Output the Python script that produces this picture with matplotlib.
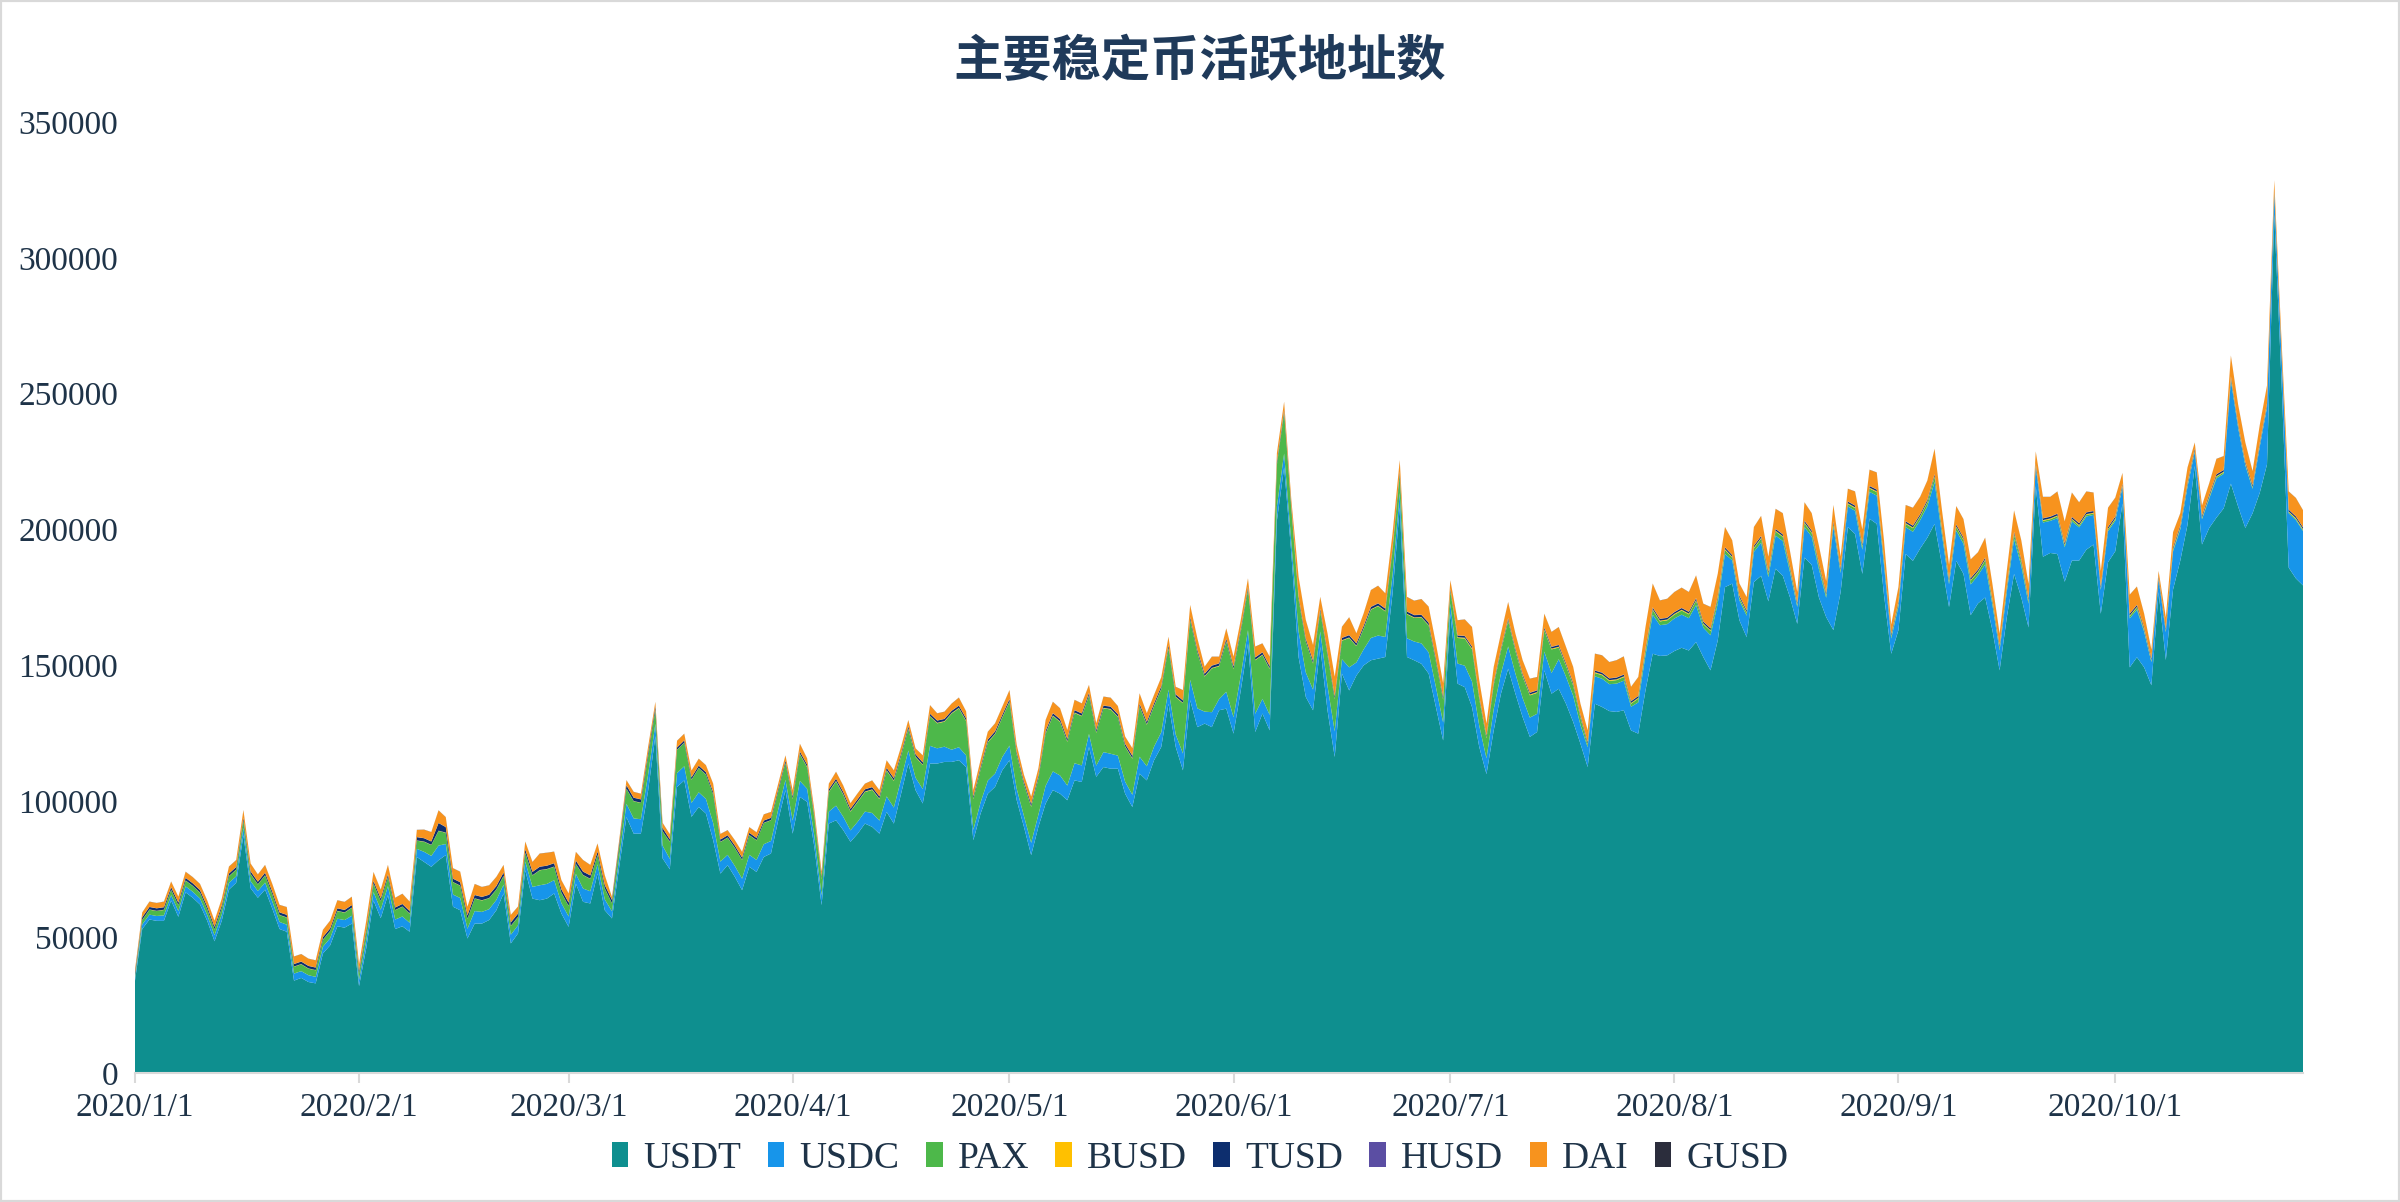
import matplotlib.pyplot as plt
import pandas as pd
from matplotlib.patches import Rectangle

# 2020/1/1 - 2020/10/27, daily, values in thousands of addresses
dates = pd.date_range('2020-01-01', '2020-10-27', freq='D')

usdt = [
    # Jan
    34, 53, 56.5, 56, 56, 63.5, 57.5, 66.5, 64.5, 62, 56, 48.5, 56, 67.5, 70, 87.5,
    68, 64.5, 67.5, 60.5, 53, 52, 34, 35, 33.5, 33, 44, 47, 54, 53.5, 55,
    # Feb
    32, 46, 63.5, 57, 65.5, 53, 54, 52, 79.5, 77.7, 75.9, 78.3, 80.2, 61.2, 59.9,
    49.5, 55, 55, 56.3, 59.9, 66.1, 47.7, 51.4, 74.6, 64.2, 63.6, 64.2, 66.1, 58.7,
    # Mar
    53.8, 69.7, 63, 62.4, 73.4, 59.9, 56.9, 75.9, 94.2, 88.1, 88.1, 104, 124, 79, 75,
    105.3, 107.7, 94.3, 97.9, 95.5, 85.7, 73.4, 76.5, 72.2, 67.3, 75.9, 74, 79.5, 80.8, 93, 104.1,
    # Apr
    88.1, 101.6, 99.8, 83.2, 61.8, 91.8, 93, 89.4, 85.1, 88.1, 91.8, 90.6, 88.1, 96.1, 91.8,
    102.8, 113.9, 104.1, 99.2, 113.9, 113.9, 114.5, 114.5, 115.1, 112.6, 85.7, 95.5, 102.8, 105.3, 111.4,
    # May
    115.1, 100.4, 90.6, 80.2, 90.6, 99.2, 104.1, 102.8, 100.4, 107.7, 107.1, 120, 109, 112.6, 112,
    112, 102.8, 97.9, 110.2, 107.7, 115.1, 120, 135.9, 120, 111.4, 137.2, 127.3, 128.6, 127.3, 133.5, 134.1,
    # Jun
    124.9, 140.8, 158, 125.5, 132.3, 126.1, 203.3, 222.9, 191.1, 153.1, 138.4, 133.5, 156.8, 133.5, 116.3,
    147, 140.8, 146.3, 150, 151.9, 152.5, 153.1, 176.4, 208.2, 153.1, 151.9, 150.6, 147, 134.7, 122.4,
    # Jul
    169, 143.3, 142, 134.7, 120, 110, 126.1, 139.6, 148.8, 139.6, 131, 123.7, 125.5, 148.2, 139.6,
    141.4, 135.9, 129.2, 121.2, 112.6, 135.9, 134.7, 133.2, 132.9, 133.5, 126.1, 124.9, 140.8, 154.3, 153.5, 153.7,
    # Aug
    155.3, 156.5, 155.5, 158.6, 153.1, 148.2, 159.2, 178.8, 180.1, 166.6, 160.4, 180.7, 183, 173.6, 185.6,
    183, 175, 165.3, 189.7, 187, 175, 167.8, 163, 177, 200.9, 198.4, 183.7, 204, 202.1, 176, 154.3,
    # Sep
    163, 191, 188.5, 193, 197, 202.1, 187.4, 171.5, 188.5, 183.7, 168.5, 172.8, 175, 163, 148.2,
    167.8, 183.7, 175, 164, 216, 190, 191.4, 191, 180.8, 188.6, 188.6, 192.6, 194.5, 169, 188,
    # Oct
    192, 209.6, 149.3, 153, 149.3, 142.7, 177, 152, 178, 188.6, 201.8, 223.4, 194.5, 200.6,
    204.4, 207.8, 216.9, 208.5, 200.6, 206, 213.6, 224, 316, 255, 186, 182, 179.4,
]

usdc = [
    1.0, 1.7, 1.8, 1.8, 2.0, 2.0, 2.1, 2.2, 2.2, 2.2, 2.1, 2.2, 2.3, 2.5, 2.4, 2.7,
    2.6, 2.5, 2.6, 2.6, 2.6, 2.6, 2.6, 2.5, 2.5, 2.4, 2.5, 2.6, 2.8, 2.8, 2.9,
    2.3, 3.0, 3.1, 3.1, 3.3, 3.5, 3.6, 3.3, 3.0, 3.7, 4.0, 5.4, 4.1, 4.5, 4.5,
    3.6, 4.6, 4.3, 4.0, 3.8, 3.2, 3.2, 3.0, 3.2, 4.3, 5.5, 5.4, 4.9, 3.8,
    3.8, 3.6, 4.9, 4.5, 3.4, 4.0, 2.6, 3.4, 4.9, 5.6, 5.3, 5.9, 4.5, 4.7, 3.8,
    5.1, 5.2, 5.1, 5.4, 5.4, 6.3, 4.4, 3.8, 4.0, 4.2, 4.4, 4.4, 4.7, 4.6, 4.0, 3.8,
    4.8, 5.9, 4.8, 4.0, 3.6, 4.4, 5.4, 4.9, 4.2, 4.4, 4.4, 5.1, 4.8, 5.7, 5.9,
    5.2, 4.8, 4.6, 5.3, 6.5, 5.6, 5.6, 4.5, 4.8, 4.3, 3.8, 4.1, 4.8, 4.9, 4.9,
    5.4, 4.2, 4.0, 4.5, 4.5, 6.5, 6.9, 6.7, 5.4, 6.3, 6.1, 4.8, 4.1, 5.5, 5.5,
    4.8, 4.4, 4.5, 6.2, 5.2, 5.0, 5.4, 5.2, 4.6, 6.2, 7.5, 6.9, 4.4, 5.5, 4.1, 6.2,
    6.0, 5.5, 5.0, 6.7, 5.4, 5.7, 5.2, 5.1, 4.1, 9.4, 9.0, 7.6, 5.7, 9.0, 9.4,
    5.3, 8.5, 4.8, 5.9, 8.2, 8.5, 7.4, 6.9, 5.3, 6.9, 6.9, 7.5, 7.8, 7.4, 6.6,
    3.7, 7.4, 7.9, 9.4, 7.8, 5.8, 7.8, 7.4, 8.2, 7.4, 7.0, 7.1, 6.7, 6.9, 7.6,
    10.9, 10.0, 9.6, 6.9, 7.3, 10.1, 10.4, 9.9, 10.4, 10.9, 8.7, 11.5, 12.9, 14.4, 11.3, 11.5,
    12.0, 12.2, 11.9, 13.6, 10.8, 12.9, 13.6, 12.2, 8.6, 7.3, 7.9, 11.1, 12.2, 8.9, 12.2,
    12.8, 9.3, 6.2, 11.2, 10.4, 10.4, 7.1, 38, 7.0, 7.6, 8.5, 8.9, 9.9, 10.4, 11.0, 5.6,
    8.6, 9.9, 10.7, 10.4, 11.6, 15.4, 11.1, 8.4, 11.1, 11.1, 11.3, 10.3, 12.2, 9.3, 7.3,
    9.4, 12.9, 11.6, 8.7, 7.0, 12.6, 11.8, 13.2, 12.7, 14.4, 12.2, 12.2, 10.9, 8.8, 11.4,
    11.2, 6.1, 18.0, 17.5, 13.1, 8.5, 4.7, 10.2, 14.0, 11.5, 14.0, 5.3, 9.3, 10.8,
    14.4, 12.7, 38, 29, 23, 9.0, 17, 21, 7.5, 9.5, 20, 21.5, 20,
]

pax = [
    0.9, 1.6, 1.8, 1.8, 2.0, 1.9, 2.1, 2.1, 2.1, 2.1, 2.1, 2.1, 2.3, 2.4, 2.4, 2.7,
    2.6, 2.4, 2.6, 2.6, 2.5, 2.6, 2.5, 2.5, 2.4, 2.4, 2.5, 2.6, 2.8, 2.7, 2.9,
    2.3, 2.9, 3.1, 3.1, 3.3, 3.4, 3.6, 3.3, 3.0, 3.7, 4.0, 5.4, 4.1, 4.5, 4.5,
    3.6, 4.6, 4.2, 4.0, 3.8, 3.2, 3.2, 3.0, 3.2, 4.2, 5.5, 5.4, 4.9, 3.8,
    3.8, 3.6, 4.9, 4.5, 3.4, 4.0, 2.9, 3.8, 5.5, 6.3, 6.0, 6.6, 5.0, 5.2, 6.3,
    8.5, 8.6, 8.5, 8.9, 8.9, 10.5, 7.2, 6.3, 6.6, 6.9, 7.2, 7.2, 7.8, 7.6, 6.6, 6.2,
    7.9, 9.8, 7.9, 6.6, 5.9, 7.2, 8.9, 8.1, 6.9, 7.3, 7.2, 8.5, 7.9, 9.5, 9.8,
    8.6, 7.9, 7.6, 8.8, 10.8, 9.2, 9.2, 13.3, 14.3, 12.6, 11.3, 12.1, 14.1, 14.5, 14.5,
    16.1, 12.5, 11.7, 13.3, 13.3, 19.2, 20.4, 19.7, 16.1, 18.5, 18.1, 14.1, 12.1, 16.1, 16.3,
    14.2, 12.9, 13.3, 18.5, 15.3, 14.9, 15.9, 15.3, 13.7, 18.5, 22.0, 20.5, 12.9, 16.1, 12.1, 18.5,
    17.7, 16.1, 14.9, 19.7, 16.1, 16.9, 15.4, 15.0, 12.1, 11.9, 11.4, 9.6, 7.3, 11.4, 11.9,
    6.8, 10.8, 6.0, 7.6, 10.4, 10.8, 9.4, 8.8, 6.8, 8.8, 8.7, 9.5, 9.9, 9.4, 8.4,
    4.7, 9.4, 10.0, 11.9, 9.9, 7.4, 8.9, 8.4, 9.4, 8.4, 8.0, 8.2, 7.7, 7.9, 8.7,
    4.3, 4.0, 3.8, 2.7, 0.9, 1.2, 1.3, 1.2, 1.3, 1.3, 1.1, 1.4, 1.6, 1.7, 1.4, 1.4,
    1.4, 1.5, 1.4, 1.6, 1.3, 1.6, 1.6, 1.5, 1.0, 0.9, 1.0, 1.3, 1.5, 1.1, 1.5,
    1.5, 1.1, 0.7, 1.4, 1.3, 1.3, 0.9, 1.0, 0.8, 0.9, 1.0, 1.1, 1.2, 1.3, 1.3, 0.7,
    1.0, 1.2, 1.3, 1.3, 1.4, 1.9, 1.3, 1.0, 1.3, 1.3, 1.4, 1.2, 1.5, 1.1, 0.9,
    1.1, 1.6, 1.4, 1.0, 0.4, 0.6, 0.6, 0.7, 0.6, 0.7, 0.6, 0.6, 0.5, 0.4, 0.6,
    0.6, 0.3, 0.8, 0.8, 0.6, 0.4, 0.2, 0.4, 0.6, 0.5, 0.6, 0.2, 0.4, 0.5,
    0.6, 0.5, 0.5, 0.5, 0.4, 0.4, 0.4, 0.5, 0.3, 0.3, 0.4, 0.4, 0.4,
]

busd = [
    # Jan
    0.1, 0.1, 0.1, 0.1, 0.1, 0.1, 0.1, 0.1, 0.1, 0.1, 0.1, 0.1, 0.1, 0.1, 0.1, 0.1,
    0.1, 0.1, 0.1, 0.1, 0.1, 0.1, 0.1, 0.1, 0.1, 0.1, 0.1, 0.1, 0.1, 0.1, 0.1,
    # Feb
    0.1, 0.1, 0.1, 0.1, 0.1, 0.1, 0.1, 0.1, 0.1, 0.1, 0.1, 0.1, 0.1, 0.1, 0.1,
    0.1, 0.1, 0.1, 0.1, 0.1, 0.1, 0.1, 0.1, 0.1, 0.1, 0.1, 0.1, 0.1, 0.1,
    # Mar
    0.1, 0.1, 0.1, 0.1, 0.1, 0.1, 0.1, 0.1, 0.1, 0.1, 0.1, 0.1, 0.1, 0.1, 0.1, 0.1,
    0.1, 0.1, 0.1, 0.1, 0.1, 0.1, 0.1, 0.1, 0.1, 0.1, 0.1, 0.1, 0.1, 0.1, 0.1,
    # Apr
    0.2, 0.2, 0.2, 0.2, 0.2, 0.2, 0.2, 0.2, 0.2, 0.2, 0.2, 0.2, 0.2, 0.2, 0.2,
    0.2, 0.2, 0.2, 0.2, 0.2, 0.2, 0.2, 0.2, 0.2, 0.2, 0.2, 0.2, 0.2, 0.2, 0.2,
    # May
    0.2, 0.2, 0.2, 0.2, 0.2, 0.2, 0.2, 0.2, 0.2, 0.2, 0.2, 0.2, 0.2, 0.2, 0.2, 0.2,
    0.2, 0.2, 0.2, 0.2, 0.2, 0.2, 0.2, 0.2, 0.2, 0.2, 0.2, 0.2, 0.2, 0.2, 0.2,
    # Jun
    0.2, 0.2, 0.2, 0.2, 0.2, 0.2, 0.2, 0.2, 0.2, 0.2, 0.2, 0.2, 0.2, 0.2, 0.2,
    0.2, 0.2, 0.2, 0.2, 0.2, 0.2, 0.2, 0.2, 0.2, 0.2, 0.2, 0.2, 0.2, 0.2, 0.2,
    # Jul
    0.3, 0.3, 0.3, 0.3, 0.3, 0.3, 0.3, 0.3, 0.3, 0.3, 0.3, 0.3, 0.3, 0.3, 0.3, 0.3,
    0.3, 0.3, 0.3, 0.3, 0.3, 0.3, 0.3, 0.3, 0.3, 0.3, 0.3, 0.3, 0.3, 0.3, 0.3,
    # Aug
    0.3, 0.3, 0.3, 0.3, 0.3, 0.3, 0.3, 0.3, 0.3, 0.3, 0.3, 0.3, 0.3, 0.3, 0.3, 0.3,
    0.3, 0.3, 0.3, 0.3, 0.3, 0.3, 0.3, 0.3, 0.3, 0.3, 0.3, 0.3, 0.3, 0.3, 0.3,
    # Sep
    0.3, 0.3, 0.3, 0.3, 0.3, 0.3, 0.3, 0.3, 0.3, 0.3, 0.3, 0.3, 0.3, 0.3, 0.3,
    0.3, 0.3, 0.3, 0.3, 0.3, 0.3, 0.3, 0.3, 0.3, 0.3, 0.3, 0.3, 0.3, 0.3, 0.3,
    # Oct
    0.3, 0.3, 0.3, 0.3, 0.3, 0.3, 0.3, 0.3, 0.3, 0.3, 0.3, 0.3, 0.3, 0.3,
    0.3, 0.3, 0.3, 0.3, 0.3, 0.3, 0.3, 0.3, 0.3, 0.3, 0.3, 0.3, 0.3,
]

tusd = [
    # Jan
    0.9, 0.9, 0.9, 0.9, 0.9, 0.9, 0.9, 0.9, 0.9, 0.9, 0.9, 0.9, 0.9, 0.9, 0.9, 0.9,
    0.9, 0.9, 0.9, 0.9, 0.9, 0.9, 0.9, 0.9, 0.9, 0.9, 0.9, 0.9, 0.9, 0.9, 0.9,
    # Feb
    0.9, 0.9, 0.9, 0.9, 0.9, 0.9, 0.9, 0.9, 1.2, 1.2, 1.2, 2.8, 2.0, 1.2, 1.2,
    1.2, 1.2, 1.2, 1.2, 1.2, 1.2, 1.2, 1.2, 1.2, 1.2, 1.2, 1.2, 1.2, 1.2,
    # Mar
    1.2, 1.2, 1.2, 1.2, 1.2, 1.2, 1.2, 1.2, 1.2, 1.2, 1.2, 1.2, 1.2, 1.2, 0.8, 0.8,
    0.8, 0.8, 0.8, 0.8, 0.8, 0.8, 0.8, 0.8, 0.8, 0.8, 0.8, 0.8, 0.8, 0.8, 0.8,
    # Apr
    0.8, 0.8, 0.8, 0.8, 0.8, 0.8, 0.8, 0.8, 0.8, 0.8, 0.8, 0.8, 0.8, 0.8, 0.8,
    0.8, 0.8, 0.8, 0.8, 0.8, 0.8, 0.8, 0.8, 0.8, 0.8, 0.8, 0.8, 0.8, 0.8, 0.8,
    # May
    0.8, 0.8, 0.8, 0.8, 0.8, 0.8, 0.8, 0.8, 0.8, 0.8, 0.8, 0.8, 0.8, 0.8, 0.8, 0.8,
    0.8, 0.8, 0.8, 0.8, 0.8, 0.8, 0.8, 0.8, 0.8, 0.8, 0.8, 0.8, 0.8, 0.8, 0.8,
    # Jun
    0.8, 0.8, 0.8, 0.8, 0.8, 0.8, 0.8, 0.8, 0.8, 0.8, 0.8, 0.8, 0.8, 0.8, 0.8,
    0.8, 0.8, 0.8, 0.8, 0.8, 0.8, 0.8, 0.8, 0.8, 0.8, 0.8, 0.8, 0.8, 0.8, 0.8,
    # Jul
    0.6, 0.6, 0.6, 0.6, 0.6, 0.6, 0.6, 0.6, 0.6, 0.6, 0.6, 0.6, 0.6, 0.6, 0.6, 0.6,
    0.6, 0.6, 0.6, 0.6, 0.6, 0.6, 0.6, 0.6, 0.6, 0.6, 0.6, 0.6, 0.6, 0.6, 0.6,
    # Aug
    0.6, 0.6, 0.6, 0.6, 0.6, 0.6, 0.6, 0.6, 0.6, 0.6, 0.6, 0.6, 0.6, 0.6, 0.6, 0.6,
    0.6, 0.6, 0.6, 0.6, 0.6, 0.6, 0.6, 0.6, 0.6, 0.6, 0.6, 0.6, 0.6, 0.6, 0.6,
    # Sep
    0.6, 0.6, 0.6, 0.6, 0.6, 0.6, 0.6, 0.6, 0.6, 0.6, 0.6, 0.6, 0.6, 0.6, 0.6,
    0.6, 0.6, 0.6, 0.6, 0.6, 0.6, 0.6, 0.6, 0.6, 0.6, 0.6, 0.6, 0.6, 0.6, 0.6,
    # Oct
    0.6, 0.6, 0.6, 0.6, 0.6, 0.6, 0.6, 0.6, 0.6, 0.6, 0.6, 0.6, 0.6, 0.6,
    0.6, 0.6, 0.6, 0.6, 0.6, 0.6, 0.6, 0.6, 0.6, 0.6, 0.6, 0.6, 0.6,
]

husd = [
    # Jan
    0.05, 0.05, 0.05, 0.05, 0.05, 0.05, 0.05, 0.05, 0.05, 0.05, 0.05, 0.05, 0.05, 0.05, 0.05, 0.05,
    0.05, 0.05, 0.05, 0.05, 0.05, 0.05, 0.05, 0.05, 0.05, 0.05, 0.05, 0.05, 0.05, 0.05, 0.05,
    # Feb
    0.05, 0.05, 0.05, 0.05, 0.05, 0.05, 0.05, 0.05, 0.05, 0.05, 0.05, 0.05, 0.05, 0.05, 0.05,
    0.05, 0.05, 0.05, 0.05, 0.05, 0.05, 0.05, 0.05, 0.05, 0.05, 0.05, 0.05, 0.05, 0.05,
    # Mar
    0.05, 0.05, 0.05, 0.05, 0.05, 0.05, 0.05, 0.05, 0.05, 0.05, 0.05, 0.05, 0.05, 0.05, 0.05, 0.05,
    0.05, 0.05, 0.05, 0.05, 0.05, 0.05, 0.05, 0.05, 0.05, 0.05, 0.05, 0.05, 0.05, 0.05, 0.05,
    # Apr
    0.05, 0.05, 0.05, 0.05, 0.05, 0.05, 0.05, 0.05, 0.05, 0.05, 0.05, 0.05, 0.05, 0.05, 0.05,
    0.05, 0.05, 0.05, 0.05, 0.05, 0.05, 0.05, 0.05, 0.05, 0.05, 0.05, 0.05, 0.05, 0.05, 0.05,
    # May
    0.1, 0.1, 0.1, 0.1, 0.1, 0.1, 0.1, 0.1, 0.1, 0.1, 0.1, 0.1, 0.1, 0.1, 0.1, 0.1,
    0.1, 0.1, 0.1, 0.1, 0.1, 0.1, 0.1, 0.1, 0.1, 0.1, 0.1, 0.1, 0.1, 0.1, 0.1,
    # Jun
    0.1, 0.1, 0.1, 0.1, 0.1, 0.1, 0.1, 0.1, 0.1, 0.1, 0.1, 0.1, 0.1, 0.1, 0.1,
    0.1, 0.1, 0.1, 0.1, 0.1, 0.1, 0.1, 0.1, 0.1, 0.1, 0.1, 0.1, 0.1, 0.1, 0.1,
    # Jul
    0.1, 0.1, 0.1, 0.1, 0.1, 0.1, 0.1, 0.1, 0.1, 0.1, 0.1, 0.1, 0.1, 0.1, 0.1, 0.1,
    0.1, 0.1, 0.1, 0.1, 0.1, 0.1, 0.1, 0.1, 0.1, 0.1, 0.1, 0.1, 0.1, 0.1, 0.1,
    # Aug
    0.1, 0.1, 0.1, 0.1, 0.1, 0.1, 0.1, 0.1, 0.1, 0.1, 0.1, 0.1, 0.1, 0.1, 0.1, 0.1,
    0.1, 0.1, 0.1, 0.1, 0.1, 0.1, 0.1, 0.1, 0.1, 0.1, 0.1, 0.1, 0.1, 0.1, 0.1,
    # Sep
    0.1, 0.1, 0.1, 0.1, 0.1, 0.1, 0.1, 0.1, 0.1, 0.1, 0.1, 0.1, 0.1, 0.1, 0.1,
    0.1, 0.1, 0.1, 0.1, 0.1, 0.1, 0.1, 0.1, 0.1, 0.1, 0.1, 0.1, 0.1, 0.1, 0.1,
    # Oct
    0.1, 0.1, 0.1, 0.1, 0.1, 0.1, 0.1, 0.1, 0.1, 0.1, 0.1, 0.1, 0.1, 0.1,
    0.1, 0.1, 0.1, 0.1, 0.1, 0.1, 0.1, 0.1, 0.1, 0.1, 0.1, 0.1, 0.1,
]

dai = [
    1.0, 1.7, 1.9, 1.9, 2.0, 2.0, 2.1, 2.2, 2.2, 2.2, 2.2, 2.2, 2.4, 2.5, 2.5, 2.8,
    2.8, 2.6, 2.8, 2.8, 2.7, 2.8, 2.7, 2.7, 2.6, 2.6, 2.6, 2.8, 2.9, 2.9, 3.0,
    2.4, 3.1, 3.2, 3.2, 3.4, 3.5, 3.7, 3.4, 2.6, 3.1, 3.4, 4.6, 3.6, 3.8, 3.8,
    3.1, 4.0, 3.6, 3.4, 3.3, 2.7, 2.7, 2.5, 2.8, 3.6, 4.8, 4.7, 4.2, 3.3,
    3.3, 3.1, 4.2, 3.8, 2.9, 3.5, 1.0, 1.3, 1.8, 2.1, 2.0, 2.2, 1.7, 1.8, 1.8,
    2.4, 2.4, 2.4, 2.5, 2.5, 3.0, 2.0, 1.8, 1.9, 2.0, 2.0, 2.0, 2.2, 2.1, 1.9, 1.8,
    2.2, 2.8, 2.2, 1.9, 1.7, 2.0, 2.5, 2.3, 2.0, 2.1, 2.0, 2.4, 2.2, 2.7, 2.8,
    2.4, 2.2, 2.1, 2.5, 3.1, 2.6, 2.6, 2.6, 2.9, 2.5, 2.3, 2.4, 2.8, 2.9, 2.9,
    3.2, 2.5, 2.3, 2.6, 2.6, 3.9, 4.1, 3.9, 3.2, 3.7, 3.6, 2.8, 2.4, 3.2, 3.2,
    2.9, 2.6, 2.7, 3.7, 3.1, 3.0, 3.2, 3.0, 2.7, 3.7, 4.4, 4.1, 2.5, 3.2, 2.4, 3.7,
    3.5, 3.2, 3.0, 3.9, 3.2, 3.4, 3.1, 2.9, 2.4, 7.1, 6.8, 5.7, 4.3, 6.8, 7.1,
    4.0, 6.5, 3.6, 4.5, 6.1, 6.4, 5.5, 5.3, 4.1, 5.3, 5.2, 5.7, 5.8, 5.5, 4.9,
    2.9, 5.5, 6.0, 7.1, 5.8, 4.4, 5.6, 5.3, 5.9, 5.3, 4.9, 5.1, 4.8, 5.0, 5.4,
    6.5, 5.9, 5.8, 4.1, 4.3, 6.1, 6.3, 5.9, 6.3, 6.6, 5.2, 6.9, 7.8, 8.7, 6.7, 6.9,
    7.3, 7.4, 7.2, 8.3, 6.5, 7.8, 8.3, 7.4, 5.3, 4.3, 4.8, 6.8, 7.3, 5.4, 7.3,
    7.7, 5.6, 3.8, 6.7, 6.3, 6.3, 4.2, 6.0, 4.2, 4.6, 5.1, 5.3, 5.9, 6.2, 6.7, 3.4,
    5.2, 5.9, 6.5, 6.3, 7.0, 9.3, 6.8, 5.1, 6.7, 6.7, 6.8, 6.3, 7.3, 5.6, 4.3,
    5.7, 7.8, 7.0, 5.3, 4.3, 7.8, 7.2, 8.1, 7.9, 8.9, 7.6, 7.6, 6.7, 5.5, 7.0,
    6.9, 3.8, 6.9, 6.7, 5.0, 3.2, 1.8, 4.0, 5.4, 4.4, 5.4, 2.1, 3.6, 4.1,
    5.6, 5.0, 7.6, 7.0, 7.0, 5.1, 6.5, 6.5, 3.7, 4.2, 6.6, 6.7, 6.2,
]

gusd = [
    # Jan - Mar
    0.05, 0.05, 0.05, 0.05, 0.05, 0.05, 0.05, 0.05, 0.05, 0.05, 0.05, 0.05, 0.05, 0.05, 0.05, 0.05,
    0.05, 0.05, 0.05, 0.05, 0.05, 0.05, 0.05, 0.05, 0.05, 0.05, 0.05, 0.05, 0.05, 0.05, 0.05,
    0.05, 0.05, 0.05, 0.05, 0.05, 0.05, 0.05, 0.05, 0.05, 0.05, 0.05, 0.05, 0.05, 0.05, 0.05,
    0.05, 0.05, 0.05, 0.05, 0.05, 0.05, 0.05, 0.05, 0.05, 0.05, 0.05, 0.05, 0.05, 0.05,
    0.05, 0.05, 0.05, 0.05, 0.05, 0.05, 0.05, 0.05, 0.05, 0.05, 0.05, 0.05, 0.05, 0.05, 0.05, 0.05,
    0.05, 0.05, 0.05, 0.05, 0.05, 0.05, 0.05, 0.05, 0.05, 0.05, 0.05, 0.05, 0.05, 0.05, 0.05,
    # Apr - Jun
    0.05, 0.05, 0.05, 0.05, 0.05, 0.05, 0.05, 0.05, 0.05, 0.05, 0.05, 0.05, 0.05, 0.05, 0.05,
    0.05, 0.05, 0.05, 0.05, 0.05, 0.05, 0.05, 0.05, 0.05, 0.05, 0.05, 0.05, 0.05, 0.05, 0.05,
    0.05, 0.05, 0.05, 0.05, 0.05, 0.05, 0.05, 0.05, 0.05, 0.05, 0.05, 0.05, 0.05, 0.05, 0.05, 0.05,
    0.05, 0.05, 0.05, 0.05, 0.05, 0.05, 0.05, 0.05, 0.05, 0.05, 0.05, 0.05, 0.05, 0.05, 0.05,
    0.05, 0.05, 0.05, 0.05, 0.05, 0.05, 0.05, 0.05, 0.05, 0.05, 0.05, 0.05, 0.05, 0.05, 0.05,
    0.05, 0.05, 0.05, 0.05, 0.05, 0.05, 0.05, 0.05, 0.05, 0.05, 0.05, 0.05, 0.05, 0.05, 0.05,
    # Jul - Oct
    0.05, 0.05, 0.05, 0.05, 0.05, 0.05, 0.05, 0.05, 0.05, 0.05, 0.05, 0.05, 0.05, 0.05, 0.05, 0.05,
    0.05, 0.05, 0.05, 0.05, 0.05, 0.05, 0.05, 0.05, 0.05, 0.05, 0.05, 0.05, 0.05, 0.05, 0.05,
    0.05, 0.05, 0.05, 0.05, 0.05, 0.05, 0.05, 0.05, 0.05, 0.05, 0.05, 0.05, 0.05, 0.05, 0.05, 0.05,
    0.05, 0.05, 0.05, 0.05, 0.05, 0.05, 0.05, 0.05, 0.05, 0.05, 0.05, 0.05, 0.05, 0.05, 0.05,
    0.05, 0.05, 0.05, 0.05, 0.05, 0.05, 0.05, 0.05, 0.05, 0.05, 0.05, 0.05, 0.05, 0.05, 0.05,
    0.05, 0.05, 0.05, 0.05, 0.05, 0.05, 0.05, 0.05, 0.05, 0.05, 0.05, 0.05, 0.05, 0.05, 0.05,
    0.05, 0.05, 0.05, 0.05, 0.05, 0.05, 0.05, 0.05, 0.05, 0.05, 0.05, 0.05, 0.05, 0.05,
    0.05, 0.05, 0.05, 0.05, 0.05, 0.05, 0.05, 0.05, 0.05, 0.05, 0.05, 0.05, 0.05,
]

names = ['USDT', 'USDC', 'PAX', 'BUSD', 'TUSD', 'HUSD', 'DAI', 'GUSD']
colors = ['#0e8f8f', '#1795ea', '#4db84a', '#ffc000', '#0d2e6e', '#5b4ea3', '#f7931e', '#2b2d3c']
series = [usdt, usdc, pax, busd, tusd, husd, dai, gusd]

text_color = '#1e3348'
serif = 'Liberation Serif'

fig = plt.figure(figsize=(24, 12.02), dpi=100)
ax = fig.add_axes([0.05625, 0.1073, 0.9034, 0.7912])

ax.stackplot(dates, *[[v * 1000 for v in s] for s in series],
             labels=names, colors=colors, linewidth=0)

ax.set_xlim(dates[0], dates[-1])
ax.set_ylim(0, 350000)
ax.set_yticks(range(0, 350001, 50000))

month_starts = pd.date_range('2020-01-01', '2020-10-01', freq='MS')
ax.set_xticks(month_starts)
ax.set_xticklabels([f'{d.year}/{d.month}/{d.day}' for d in month_starts])

for s in ['top', 'right', 'left']:
    ax.spines[s].set_visible(False)
ax.spines['bottom'].set_color('#d9d9d9')
ax.spines['bottom'].set_linewidth(1.5)

ax.tick_params(axis='y', length=0, pad=12, labelsize=24, labelcolor=text_color)
ax.tick_params(axis='x', length=7, width=1.5, color='#d9d9d9', pad=7,
               labelsize=24, labelcolor=text_color)
for lab in ax.get_xticklabels() + ax.get_yticklabels():
    lab.set_fontfamily(serif)

fig.text(0.5, 0.949, '主要稳定币活跃地址数', ha='center', va='center',
         fontsize=35.5, fontweight='bold', color='#1f3a5a',
         family=['Noto Sans CJK SC', 'DejaVu Sans'])

fig.legend(*ax.get_legend_handles_labels(), loc='center', bbox_to_anchor=(0.5, 0.036),
           ncol=8, frameon=False, handlelength=0.45, handleheight=0.65,
           handletextpad=0.4, columnspacing=0.7,
           prop={'family': serif, 'size': 27}, labelcolor=text_color)

fig.add_artist(Rectangle((0, 0), 1, 1, transform=fig.transFigure, fill=False,
                         edgecolor='#d9d9d9', linewidth=3))

fig.savefig('out.png', dpi=100)
